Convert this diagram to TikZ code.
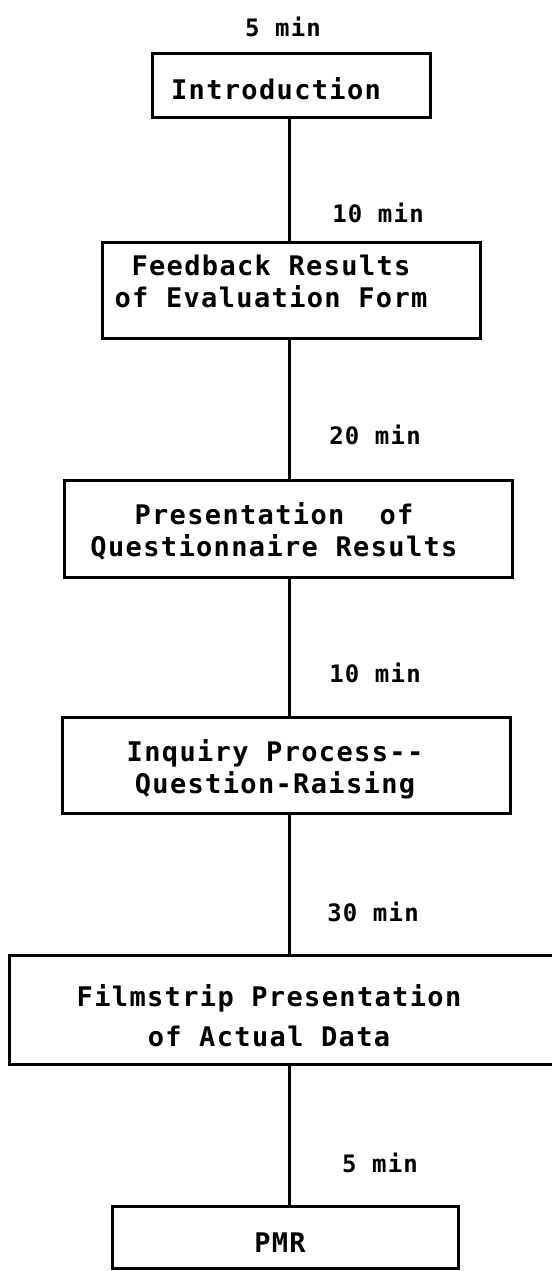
\documentclass[tikz,border=0pt]{standalone}
\usepackage{fontspec}
\usetikzlibrary{positioning,calc}
\newfontfamily\chartfont[LetterSpace=5]{DejaVu Sans Mono}
\tikzstyle{stage}=[draw,line width=3bp,inner sep=0pt]
\tikzstyle{stagetext}=[font=\chartfont\bfseries\fontsize{27bp}{32bp}\selectfont,align=center,inner sep=0pt]
\tikzstyle{duration}=[font=\chartfont\bfseries\fontsize{24bp}{28bp}\selectfont,inner sep=0pt]

\begin{document}
\begin{tikzpicture}[x=1bp,y=-1bp]
\useasboundingbox (0,0) rectangle (552,1271);
        \node[stage,minimum width=277bp,minimum height=64bp] (intro) at (291.5,85) {};
        \node[stage,minimum width=377bp,minimum height=96bp] (feedback) at (291.5,290) {};
        \node[stage,minimum width=447bp,minimum height=97bp] (presentation) at (288.5,528.5) {};
        \node[stage,minimum width=447bp,minimum height=96bp] (inquiry) at (286.5,765) {};
        \node[stage,minimum width=548bp,minimum height=109bp] (filmstrip) at (284,1009.5) {};
        \node[stage,minimum width=345bp,minimum height=62bp] (pmr) at (285.5,1237) {};
        \node[stagetext] (introtext) at (276,89) {Introduction};
        \node[stagetext] (feedbacktext) at (271,281) {Feedback Results\\of Evaluation Form};
        \node[stagetext] (presentationtext) at (274,531) {Presentation~~of\\Questionnaire Results};
        \node[stagetext] (inquirytext) at (275,769) {Inquiry Process--\\Question-Raising};
        \node[stagetext] (filmstriptext) at (269,1016) {Filmstrip Presentation\\[8bp]of Actual Data};
        \node[stagetext] (pmrtext) at (280,1243) {PMR};
        \coordinate (spine) at (289,0);
        \foreach \a/\b in {intro/feedback, feedback/presentation, presentation/inquiry, inquiry/filmstrip, filmstrip/pmr}
          \draw [line width=3bp] (\a.south -| spine) -- (\b.north -| spine);
        \foreach \n/\x/\y/\t in {t0/283/27/5 min, t1/378/213/10 min, t2/375/435/20 min, t3/375/673/10 min, t4/373/912/30 min, t5/380/1163/5 min}
          \node[duration] (\n) at (\x,\y) {\t};
      \end{tikzpicture}
\end{document}
